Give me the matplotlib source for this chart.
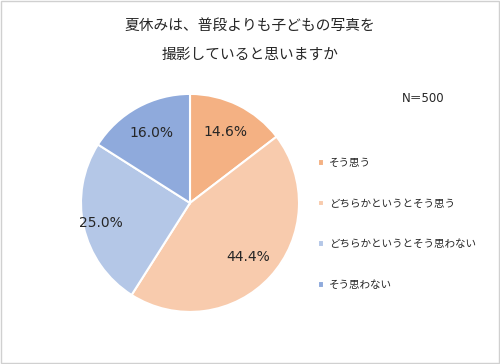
import matplotlib
matplotlib.use("Agg")
import matplotlib.pyplot as plt
from matplotlib.patches import Rectangle
import numpy as np

plt.rcParams['font.family'] = ['Noto Sans CJK JP', 'DejaVu Sans']

title = "夏休みは、普段よりも子どもの写真を\n撮影していると思いますか"
categories = ["そう思う", "どちらかというとそう思う", "どちらかというとそう思わない", "そう思わない"]
values = [14.6, 44.4, 25.0, 16.0]
colors = ["#F4B183", "#F8CBAD", "#B4C7E7", "#8FAADC"]
note = "N＝500"

fig = plt.figure(figsize=(5.0, 3.64), dpi=100)
fig.patches.append(Rectangle((0.002, 0.003), 0.996, 0.994, transform=fig.transFigure,
                             fill=False, edgecolor="#d0d0d0", linewidth=1.0))

ax = fig.add_axes([0.162, 0.143, 0.436, 0.599])
wedges, texts, autotexts = ax.pie(
    values, colors=colors, startangle=90, counterclock=False,
    autopct=lambda p: f"{p:.1f}%", pctdistance=0.73,
    wedgeprops=dict(edgecolor="white", linewidth=1.5),
    textprops=dict(fontsize=10, color="#262626", family=['DejaVu Sans']))
# move the 25.0% label outward (best-fit placement)
x, y = autotexts[2].get_position()
autotexts[2].set_position((x * 1.15, y * 1.15))
ax.set_xlim(-1, 1)
ax.set_ylim(-1, 1)
ax.set_aspect('equal')
ax.axis('off')

fig.text(0.5, 0.889, title, ha='center', va='center', fontsize=10.6,
         color="#262626", linespacing=2.3)
fig.text(0.846, 0.73, note, ha='center', va='center', fontsize=8.5, color="#262626",
         family=['DejaVu Sans', 'Noto Sans CJK JP'])

leg = fig.legend(wedges, categories, loc='upper left', bbox_to_anchor=(0.627, 0.577),
                 frameon=False, fontsize=7.6, handlelength=0.6, handleheight=0.6,
                 handletextpad=0.5, labelspacing=2.9, borderaxespad=0)
for t in leg.get_texts():
    t.set_color("#262626")

fig.savefig("out.png", dpi=100)
